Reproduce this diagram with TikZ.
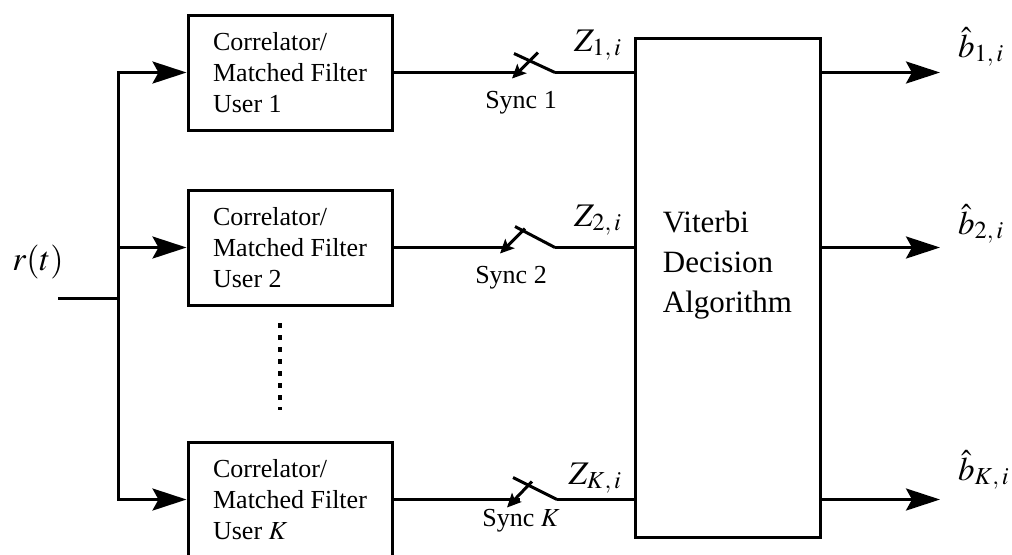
\documentclass[tikz,border=0pt]{standalone}
\usepackage{mathptmx}
\usepackage{fontspec}
\setmainfont{Liberation Serif}
\usetikzlibrary{arrows.meta}

\begin{document}
\begin{tikzpicture}[x=0.5pt, y=-0.5pt, line width=1.5pt,
    >={Stealth[length=17pt, width=11pt, inset=3pt]},
    every node/.style={font=\fontsize{13}{15.5}\selectfont},
    filt/.style={draw, line width=1.5pt, align=left, minimum width=102pt, minimum height=57.5pt},
    sig/.style={font=\fontsize{16.5}{18}\selectfont},
    sw/.style={-{Stealth[length=7pt, width=6.5pt, inset=1.5pt]}}]
    \useasboundingbox (0,0) rectangle (1012,554);

    % matched filters
    \node[filt] (f1) at (290,72.5) {Correlator/\\Matched Filter\\User 1};
    \node[filt] (f2) at (290,247.5) {Correlator/\\Matched Filter\\User 2};
    \node[filt] (fK) at (290,499.5) {Correlator/\\Matched Filter\\User $K$};
    \draw[line width=2pt, dash pattern=on 2.5pt off 3.5pt] (280,323) coordinate (dtop) -- (280,410) coordinate (dbot);

    % decision block
    \node[draw, minimum width=92.5pt, minimum height=249.5pt] (vit) at (727.5,287.5) {};
    \node[align=left, font=\fontsize{15.5}{20}\selectfont] (vitlbl) at (727.5,265) {Viterbi\\Decision\\Algorithm};

    % input
    \coordinate (in) at (58,298);
    \coordinate (split) at (118,298);
    \node[sig, font=\fontsize{17}{18}\selectfont] (rt) at (38,262) {$r(t)$};
    \draw (in) -- (split);
    \draw[->] (split) |- (f1);
    \draw[->] (split) |- (f2);
    \draw[->] (split) |- (fK);

    % sampling switches
    \coordinate (s1a) at (520,72.5);
    \coordinate (s1b) at (555,72.5);
    \draw (f1.east) -- (s1a);
    \draw (s1b) -- ++(-41,-19);
    \draw[sw] ([shift={(-17,-20)}]s1b) -- ([shift={(-43,6)}]s1b);
    \draw (s1b) -- (s1b -| vit.west);
    \node (sy1) at (521,103) {Sync 1};
    \node[sig, anchor=base east] (z1) at (630,51) {$Z_{1,\,i}$};

    \coordinate (s2a) at (505,247.5);
    \coordinate (s2b) at (555,247.5);
    \draw (f2.east) -- (s2a);
    \draw (s2b) -- ++(-40,-21);
    \draw[sw] ([shift={(-30,-19)}]s2b) -- ([shift={(-55,6)}]s2b);
    \draw (s2b) -- (s2b -| vit.west);
    \node (sy2) at (511,278) {Sync 2};
    \node[sig, anchor=base east] (z2) at (630,226) {$Z_{2,\,i}$};

    \coordinate (sKa) at (520,499.5);
    \coordinate (sKb) at (557,499.5);
    \draw (fK.east) -- (sKa);
    \draw (sKb) -- ++(-44,-22);
    \draw[sw] ([shift={(-25,-18)}]sKb) -- ([shift={(-50,8)}]sKb);
    \draw (sKb) -- (sKb -| vit.west);
    \node (syK) at (521,521) {Sync $K$};
    \node[sig, anchor=base east] (zK) at (630,484) {$Z_{K,\,i}$};

    % decisions
    \coordinate (o1) at (940,72.5);
    \coordinate (o2) at (940,247.5);
    \coordinate (oK) at (940,499.5);
    \draw[->] (vit.east |- o1) -- (o1);
    \draw[->] (vit.east |- o2) -- (o2);
    \draw[->] (vit.east |- oK) -- (oK);
    \node[sig, anchor=base west] (b1) at (950,57) {$\hat{b}_{1,\,i}$};
    \node[sig, anchor=base west] (b2) at (950,234) {$\hat{b}_{2,\,i}$};
    \node[sig, anchor=base west] (bK) at (950,480) {$\hat{b}_{K,\,i}$};
\end{tikzpicture}
\end{document}
